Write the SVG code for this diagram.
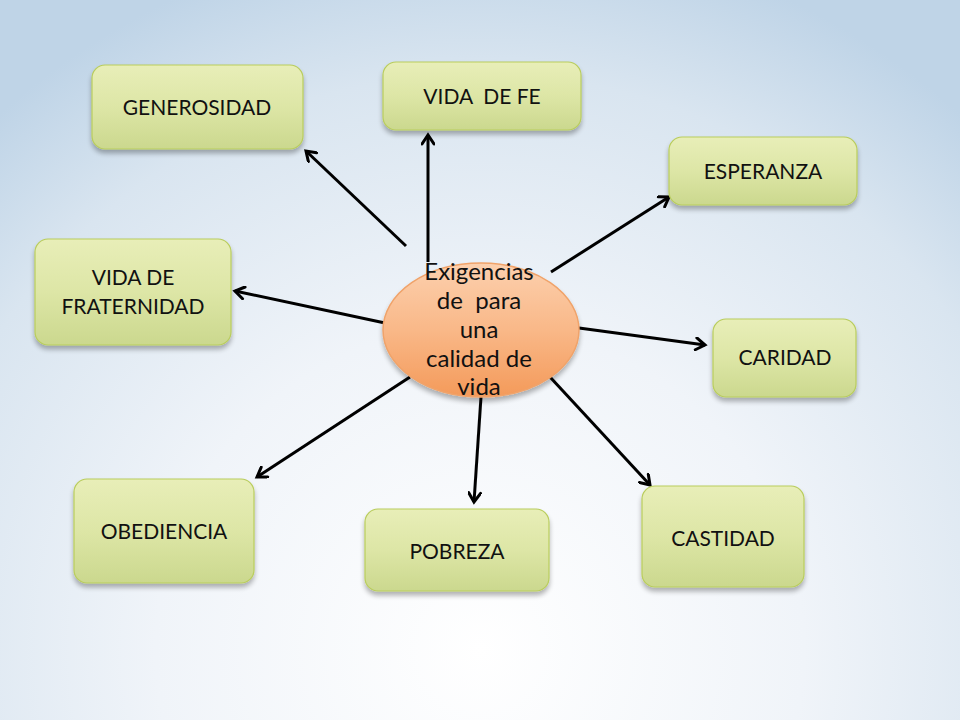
<svg xmlns="http://www.w3.org/2000/svg" width="960" height="720" viewBox="0 0 960 720">
<defs>
<radialGradient id="bg" cx="480" cy="650" r="720" gradientUnits="userSpaceOnUse">
<stop offset="0" stop-color="#ffffff"/>
<stop offset="0.45" stop-color="#f0f4f9"/>
<stop offset="0.8" stop-color="#d9e5f0"/>
<stop offset="1" stop-color="#bfd4e7"/>
</radialGradient>
<linearGradient id="box" x1="0" y1="0" x2="0" y2="1">
<stop offset="0" stop-color="#e8eeb8"/>
<stop offset="0.5" stop-color="#dde6a6"/>
<stop offset="1" stop-color="#cbd88e"/>
</linearGradient>
<linearGradient id="ell" x1="0" y1="0" x2="0" y2="1">
<stop offset="0" stop-color="#fcd0ae"/>
<stop offset="0.5" stop-color="#f9b888"/>
<stop offset="1" stop-color="#f49a5a"/>
</linearGradient>
<filter id="sh" x="-20%" y="-20%" width="140%" height="150%">
<feGaussianBlur in="SourceAlpha" stdDeviation="2.5"/>
<feOffset dx="0" dy="4" result="b"/>
<feComponentTransfer><feFuncA type="linear" slope="0.3"/></feComponentTransfer>
<feMerge><feMergeNode/><feMergeNode in="SourceGraphic"/></feMerge>
</filter>
<marker id="arr" markerWidth="14" markerHeight="14" refX="11" refY="7" orient="auto" markerUnits="userSpaceOnUse">
<polyline points="2,1 11,7 2,13" fill="none" stroke="#000" stroke-width="3" stroke-linecap="round" stroke-linejoin="miter"/>
</marker>
</defs>
<style>
.node rect{fill:url(#box);stroke:#b9cd5c;stroke-width:1.2;filter:url(#sh)}
.lbl{font-family:Lato,"Open Sans","DejaVu Sans",sans-serif;font-size:21px;fill:#111;text-anchor:middle;white-space:pre}
.c{font-family:Lato,"Open Sans","DejaVu Sans",sans-serif;font-size:24px;fill:#111;text-anchor:middle;white-space:pre}
#connectors line{stroke:#000;stroke-width:3;marker-end:url(#arr)}
</style>
<rect x="0" y="0" width="960" height="720" fill="url(#bg)"/>
<g id="connectors">
<line x1="406" y1="246" x2="306" y2="151"/>
<line x1="428" y1="262" x2="428" y2="135"/>
<line x1="551" y1="272" x2="669" y2="197"/>
<line x1="385" y1="323" x2="235" y2="291"/>
<line x1="579" y1="328" x2="705" y2="345"/>
<line x1="410" y1="377" x2="257" y2="477"/>
<line x1="481" y1="397" x2="474" y2="502"/>
<line x1="550" y1="377" x2="650" y2="485"/>
</g>
<g id="n-generosidad" class="node"><rect x="92" y="65" width="211" height="84" rx="13"/><text class="lbl" x="197" y="115">GENEROSIDAD</text></g>
<g id="n-vidafe" class="node"><rect x="383" y="62" width="198" height="68" rx="13"/><text class="lbl" x="482" y="104" xml:space="preserve">VIDA  DE FE</text></g>
<g id="n-esperanza" class="node"><rect x="669" y="137" width="188" height="68" rx="13"/><text class="lbl" x="763" y="179">ESPERANZA</text></g>
<g id="n-fraternidad" class="node"><rect x="35" y="239" width="196" height="106" rx="13"/><text class="lbl" x="133" y="285">VIDA DE</text><text class="lbl" x="133" y="314">FRATERNIDAD</text></g>
<g id="n-caridad" class="node"><rect x="713" y="319" width="143" height="78" rx="13"/><text class="lbl" x="785" y="365">CARIDAD</text></g>
<g id="n-obediencia" class="node"><rect x="74" y="479" width="180" height="104" rx="13"/><text class="lbl" x="164" y="539">OBEDIENCIA</text></g>
<g id="n-pobreza" class="node"><rect x="365" y="509" width="184" height="82" rx="13"/><text class="lbl" x="457" y="559">POBREZA</text></g>
<g id="n-castidad" class="node"><rect x="642" y="486" width="162" height="101" rx="13"/><text class="lbl" x="723" y="546">CASTIDAD</text></g>
<g id="n-centro">
<ellipse cx="481" cy="330" rx="98" ry="67" fill="url(#ell)" stroke="#f0a36a" stroke-width="1.5" filter="url(#sh)"/>
<text class="c" x="479" y="280">Exigencias</text>
<text class="c" x="479" y="309" xml:space="preserve">de  para</text>
<text class="c" x="479" y="338">una</text>
<text class="c" x="479" y="367">calidad de</text>
<text class="c" x="479" y="395">vida</text>
</g>
</svg>
